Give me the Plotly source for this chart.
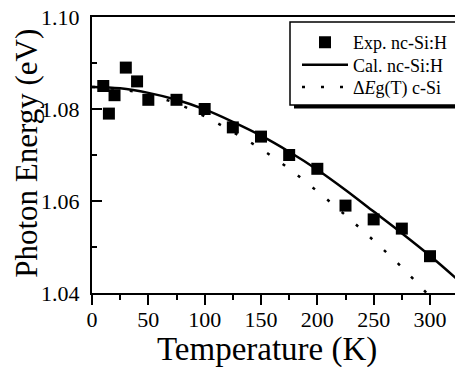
import plotly.graph_objects as go

# Experimental data
exp_T = [10, 15, 20, 30, 40, 50, 75, 100, 125, 150, 175, 200, 225, 250, 275, 300]
exp_E = [1.085, 1.079, 1.083, 1.089, 1.086, 1.082, 1.082, 1.080, 1.076, 1.074,
         1.070, 1.067, 1.059, 1.056, 1.054, 1.048]

# Calculated nc-Si:H curve
cal_T = [0, 25, 50, 75, 100, 125, 150, 175, 200, 225, 250, 275, 300, 325]
cal_E = [1.0848, 1.0845, 1.0835, 1.0820, 1.0799, 1.0772, 1.0742, 1.0707,
         1.0668, 1.0624, 1.0577, 1.0530, 1.0481, 1.0428]

# Delta Eg(T) c-Si curve
csi_T = [0, 25, 50, 75, 100, 125, 150, 175, 200, 225, 250, 275, 300]
csi_E = [1.0848, 1.0843, 1.0831, 1.0812, 1.0784, 1.0750, 1.0713, 1.0670,
         1.0621, 1.0569, 1.0514, 1.0456, 1.0392]

x_ticks = [0, 50, 100, 150, 200, 250, 300]
y_ticks = [1.04, 1.06, 1.08, 1.10]
y_labels = ["1.04", "1.06", "1.08", "1.10"]

X_TITLE = "Temperature (K)"
Y_TITLE = "Photon Energy (eV)"

FONT = "Times New Roman, Liberation Serif, Tinos, DejaVu Serif, serif"

W, H = 455, 367
L, T = 92, 17
PLOT_BOTTOM = 293.3
B = H - PLOT_BOTTOM
R = 0
pw, ph = W - L - R, H - T - B


def px2x(px):
    return (px - L) / pw


def py2y(py):
    return (H - B - py) / ph


fig = go.Figure()
fig.add_trace(go.Scatter(
    x=exp_T, y=exp_E, mode="markers", name="Exp. nc-Si:H",
    marker=dict(symbol="square", size=12, color="black"),
    legend="legend",
))
fig.add_trace(go.Scatter(
    x=cal_T, y=cal_E, mode="lines", name="Cal. nc-Si:H",
    line=dict(color="black", width=2.5, shape="spline"),
    legend="legend2",
))
fig.add_trace(go.Scatter(
    x=csi_T, y=csi_E, mode="lines", name="Δ<i>E</i>g(T) c-Si",
    line=dict(color="black", width=2.5, dash="3px,16px", shape="spline"),
    legend="legend3",
))

# legend shadow and box
fig.add_shape(type="rect", xref="paper", yref="paper",
              x0=px2x(294), x1=px2x(480), y0=py2y(108.5), y1=py2y(26),
              fillcolor="black", line=dict(width=0), layer="above")
fig.add_shape(type="rect", xref="paper", yref="paper",
              x0=px2x(290), x1=px2x(480), y0=py2y(105), y1=py2y(22),
              fillcolor="white", line=dict(color="black", width=1.5), layer="above")

# axis titles
fig.add_annotation(text=X_TITLE, xref="paper", yref="paper",
                   x=px2x(267), y=py2y(350), xanchor="center", yanchor="middle",
                   showarrow=False, font=dict(family=FONT, size=33, color="black"))
fig.add_annotation(text=Y_TITLE, xref="paper", yref="paper", textangle=-90,
                   x=px2x(27), y=py2y(154), xanchor="center", yanchor="middle",
                   showarrow=False, font=dict(family=FONT, size=31, color="black"))

leg_common = dict(
    xanchor="left", yanchor="middle",
    bgcolor="rgba(0,0,0,0)", borderwidth=0,
    font=dict(family=FONT, size=18, color="black"),
    itemwidth=46,
)
rows = [42.7, 65.0, 87.3]

fig.update_layout(
    width=W, height=H,
    margin=dict(l=L, r=R, t=T, b=B, pad=0, autoexpand=False),
    paper_bgcolor="white", plot_bgcolor="white",
    font=dict(family=FONT, color="black"),
    showlegend=True,
    legend=dict(x=px2x(297), y=py2y(rows[0]), **leg_common),
    legend2=dict(x=px2x(297), y=py2y(rows[1]), **leg_common),
    legend3=dict(x=px2x(297), y=py2y(rows[2]), **leg_common),
    xaxis=dict(
        range=[0, pw / (338 / 300)], tickvals=x_ticks,
        ticks="outside", ticklen=10, tickwidth=1.5, tickcolor="black",
        minor=dict(dtick=25, ticks="outside", ticklen=5, tickwidth=1.5, tickcolor="black"),
        showline=True, linewidth=2, linecolor="black", mirror=True,
        showgrid=False, zeroline=False,
        tickfont=dict(family=FONT, size=22),
        ticklabelstandoff=-4, ticklabeloverflow="allow",
    ),
    yaxis=dict(
        range=[1.04, 1.10], tickvals=y_ticks, ticktext=y_labels,
        ticks="inside", ticklen=10, tickwidth=1.5, tickcolor="black",
        minor=dict(dtick=0.01, ticks="inside", ticklen=5, tickwidth=1.5, tickcolor="black"),
        showline=True, linewidth=2, linecolor="black",
        showgrid=False, zeroline=False,
        tickfont=dict(family=FONT, size=22),
        ticklabelstandoff=6, ticklabeloverflow="allow",
    ),
)

fig.write_html("out.html", config={"displayModeBar": False},
               post_script="document.body.style.margin='0px';")
